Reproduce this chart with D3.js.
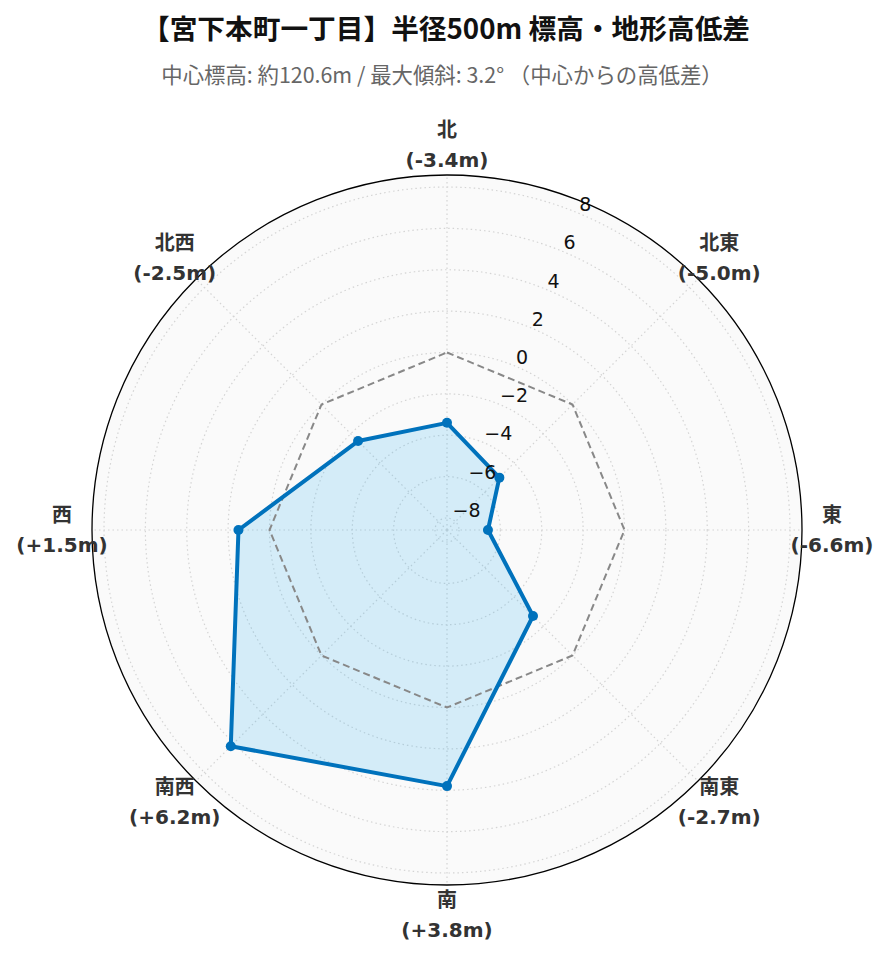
<!DOCTYPE html>
<html><head><meta charset="utf-8">
<script src="https://cdn.jsdelivr.net/npm/d3@7"></script>
<style>body{margin:0;background:#fff}svg{display:block}</style>
</head><body>
<script>
const directions = ["北","北東","東","南東","南","南西","西","北西"];
const diffs = [-3.4, -5.0, -6.6, -2.7, 3.8, 6.2, 1.5, -2.5];
const radialTicks = [-8,-6,-4,-2,0,2,4,6,8];
const titleText = "【宮下本町一丁目】半径500m 標高・地形高低差";
const subtitleText = "中心標高: 約120.6m / 最大傾斜: 3.2° （中心からの高低差）";

const W = 889, H = 962, cx = 447, cy = 530, R = 355;
const maxAbs = d3.max(diffs, d => Math.abs(d)) * 1.3;
const svg = d3.select("body").append("svg").attr("width", W).attr("height", H);
const cjk = "'Noto Sans CJK JP','Noto Sans',sans-serif";
const mixed = "'DejaVu Sans','Noto Sans CJK JP',sans-serif";

svg.append("text").attr("x", 446).attr("y", 39).attr("text-anchor","middle")
  .attr("font-family", cjk).attr("font-weight","bold").attr("font-size", 27.7).attr("fill","#111")
  .text(titleText);
svg.append("text").attr("x", 442).attr("y", 83).attr("text-anchor","middle")
  .attr("font-family", cjk).attr("font-size", 21.4).attr("fill","#666")
  .text(subtitleText);

const r = d3.scaleLinear().domain([-maxAbs, maxAbs]).range([0, R]);
const ang = d3.scaleLinear().domain([0, directions.length]).range([0, 2*Math.PI]);
const g = svg.append("g").attr("transform", `translate(${cx},${cy})`);

g.append("circle").attr("r", R).attr("fill", "#fafafa");

// grid circles
g.selectAll(".gc").data(radialTicks).join("circle")
  .attr("r", d => r(d)).attr("fill","none").attr("stroke","#d4d4d4")
  .attr("stroke-width",1.2).attr("stroke-dasharray","1.5,3");
// spokes
g.selectAll(".sp").data(directions).join("line")
  .attr("x1",0).attr("y1",0)
  .attr("x2",(d,i)=>R*Math.sin(ang(i))).attr("y2",(d,i)=>-R*Math.cos(ang(i)))
  .attr("stroke","#d4d4d4").attr("stroke-width",1.2).attr("stroke-dasharray","1.5,3");

const pt = (v,i) => [r(v)*Math.sin(ang(i)), -r(v)*Math.cos(ang(i))];
const closedLine = d3.line().curve(d3.curveLinearClosed);

// fill
g.append("path").attr("d", closedLine(diffs.map((v,i)=>pt(v,i))))
  .attr("fill","rgb(60,180,240)").attr("fill-opacity",0.2).attr("stroke","none");
// zero reference
g.append("path").attr("d", closedLine(diffs.map((v,i)=>pt(0,i))))
  .attr("fill","none").attr("stroke","#888").attr("stroke-width",2).attr("stroke-dasharray","7,4");
// data line
g.append("path").attr("d", closedLine(diffs.map((v,i)=>pt(v,i))))
  .attr("fill","none").attr("stroke","#0072BC").attr("stroke-width",4).attr("stroke-linejoin","round");
g.selectAll(".dot").data(diffs).join("circle")
  .attr("cx",(v,i)=>pt(v,i)[0]).attr("cy",(v,i)=>pt(v,i)[1]).attr("r",5).attr("fill","#0072BC");

// radial tick labels at 22.5°
const la = Math.PI/8;
g.selectAll(".rt").data(radialTicks).join("text")
  .attr("x", d => r(d)*Math.sin(la) + 1).attr("y", d => -r(d)*Math.cos(la) - 2)
  .attr("font-family","'DejaVu Sans',sans-serif").attr("font-size",19).attr("fill","#111")
  .text(d => d < 0 ? "\u2212" + Math.abs(d) : String(d));

// outer circle
g.append("circle").attr("r", R).attr("fill","none").attr("stroke","#000").attr("stroke-width",1.3);

// angular labels
const LR = 385;
const lab = g.selectAll(".al").data(directions).join("text")
  .attr("text-anchor","middle").attr("font-family", mixed).attr("font-weight","bold")
  .attr("font-size",20).attr("fill","#333");
lab.append("tspan").attr("x",(d,i)=>LR*Math.sin(ang(i))).attr("y",(d,i)=>-LR*Math.cos(ang(i)) - 8)
  .text(d=>d);
lab.append("tspan").attr("x",(d,i)=>LR*Math.sin(ang(i))).attr("y",(d,i)=>-LR*Math.cos(ang(i)) + 22)
  .text((d,i)=>`(${diffs[i] > 0 ? "+" : ""}${diffs[i].toFixed(1)}m)`);
</script>
</body></html>
